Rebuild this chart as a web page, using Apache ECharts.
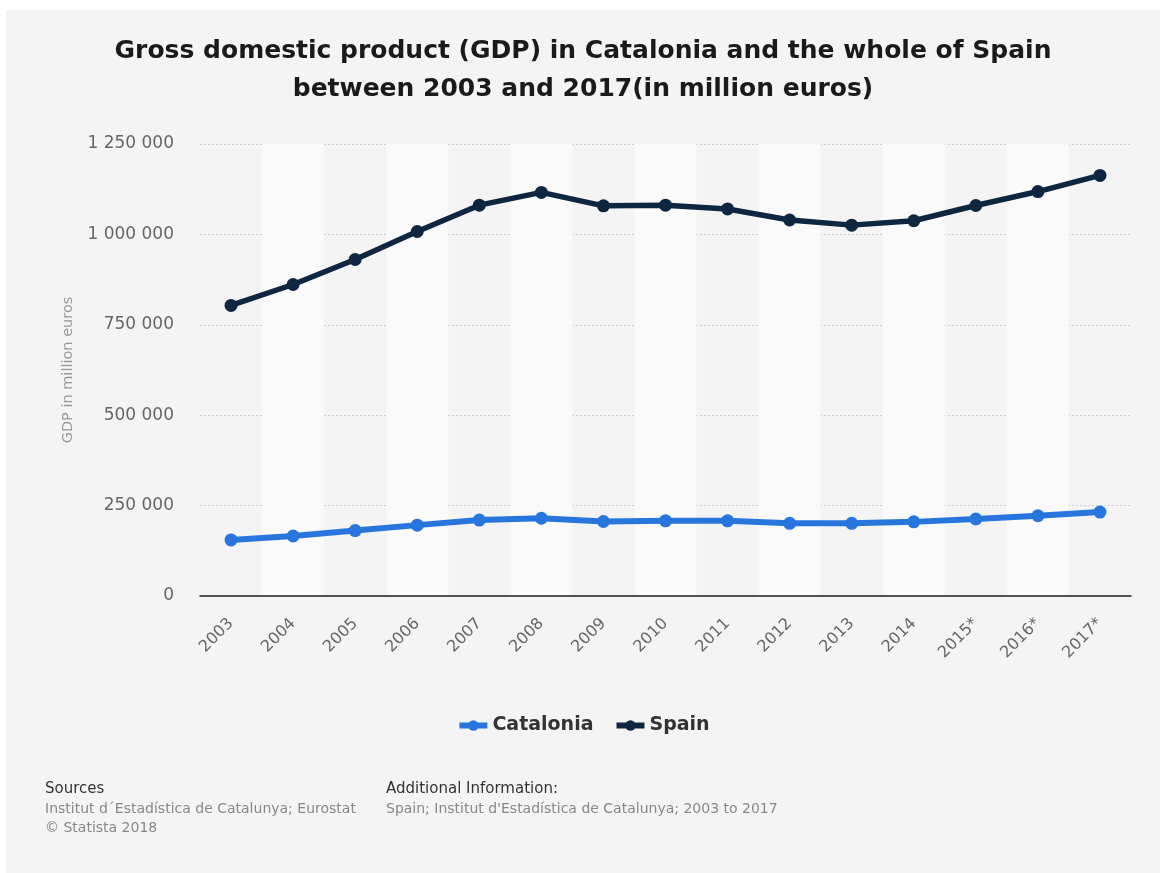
<!DOCTYPE html>
<html>
<head>
<meta charset="utf-8">
<script src="https://cdn.jsdelivr.net/npm/echarts@6/dist/echarts.min.js"></script>
<style>
html,body{margin:0;padding:0;background:#fff;}
#panel{position:absolute;left:6px;top:10px;width:1154px;height:863px;background:#f4f4f4;}
#chart{position:absolute;left:0;top:0;width:1166px;height:873px;}
</style>
</head>
<body>
<div id="panel"></div>
<div id="chart"></div>
<script>
const years = ['2003','2004','2005','2006','2007','2008','2009','2010','2011','2012','2013','2014','2015*','2016*','2017*'];
const catalonia = [155000, 166000, 181000, 196000, 210000, 215000, 206000, 208000, 208000, 201000, 201000, 205000, 213000, 222000, 232000];
const spain = [803472, 861420, 930566, 1007974, 1080807, 1116207, 1079034, 1080913, 1070413, 1039758, 1025634, 1037820, 1079998, 1118522, 1163000];
const yTicks = [0, 250000, 500000, 750000, 1000000, 1250000];

const fmt = v => String(v).replace(/\B(?=(\d{3})+(?!\d))/g, ' ');

const chart = echarts.init(document.getElementById('chart'), null, {renderer: 'canvas'});
chart.setOption({
  backgroundColor: 'transparent',
  animation: false,
  title: [{
    text: 'Gross domestic product (GDP) in Catalonia and the whole of Spain\nbetween 2003 and 2017(in million euros)',
    left: 'center', top: 27,
    textStyle: {fontFamily: 'DejaVu Sans', fontWeight: 'bold', fontSize: 25, color: '#1a1a1a', lineHeight: 38}
  }],
  legend: {
    top: 711, left: 'center',
    itemWidth: 28, itemHeight: 13, itemGap: 20,
    lineStyle: {width: 6},
    textStyle: {fontFamily: 'DejaVu Sans', fontWeight: 'bold', fontSize: 19, color: '#333'},
    data: ['Catalonia', 'Spain']
  },
  grid: {left: 200, right: 35, top: 144, bottom: 277, containLabel: false},
  xAxis: {
    type: 'category', data: years, boundaryGap: true,
    axisLine: {lineStyle: {color: '#222', width: 1.5}},
    axisTick: {show: false},
    axisLabel: {rotate: 45, fontFamily: 'DejaVu Sans', fontSize: 16, color: '#666', margin: 25},
    splitArea: {show: true, areaStyle: {color: ['rgba(0,0,0,0)', '#fafafa']}},
    splitLine: {show: false}
  },
  yAxis: {
    type: 'value', min: 0, max: 1250000, interval: 250000,
    name: 'GDP in million euros', nameLocation: 'middle', nameGap: 124,
    nameTextStyle: {fontFamily: 'DejaVu Sans', fontSize: 14.5, color: '#999'},
    axisLine: {show: false}, axisTick: {show: false},
    axisLabel: {fontFamily: 'DejaVu Sans', fontSize: 17, color: '#666', margin: 26,
      formatter: v => yTicks.includes(v) ? fmt(v) : ''},
    splitLine: {lineStyle: {color: '#cfcfcf', type: [2, 2], width: 1}}
  },
  series: [
    {name: 'Catalonia', type: 'line', data: catalonia, symbol: 'circle', symbolSize: 13,
     lineStyle: {width: 6, color: '#2876dd'}, itemStyle: {color: '#2876dd'}, z: 3},
    {name: 'Spain', type: 'line', data: spain, symbol: 'circle', symbolSize: 13,
     lineStyle: {width: 5.5, color: '#0f2641'}, itemStyle: {color: '#0f2641'}, z: 4}
  ],
  graphic: [
    {type: 'text', left: 45, top: 782, style: {text: 'Sources', font: '15px "DejaVu Sans"', fill: '#333'}},
    {type: 'text', left: 45, top: 802, style: {text: 'Institut d´Estadística de Catalunya; Eurostat', font: '14px "DejaVu Sans"', fill: '#888'}},
    {type: 'text', left: 45, top: 821, style: {text: '© Statista 2018', font: '14px "DejaVu Sans"', fill: '#888'}},
    {type: 'text', left: 386, top: 782, style: {text: 'Additional Information:', font: '15px "DejaVu Sans"', fill: '#333'}},
    {type: 'text', left: 386, top: 802, style: {text: "Spain; Institut d'Estadística de Catalunya; 2003 to 2017", font: '14px "DejaVu Sans"', fill: '#888'}}
  ]
});
</script>
</body>
</html>
